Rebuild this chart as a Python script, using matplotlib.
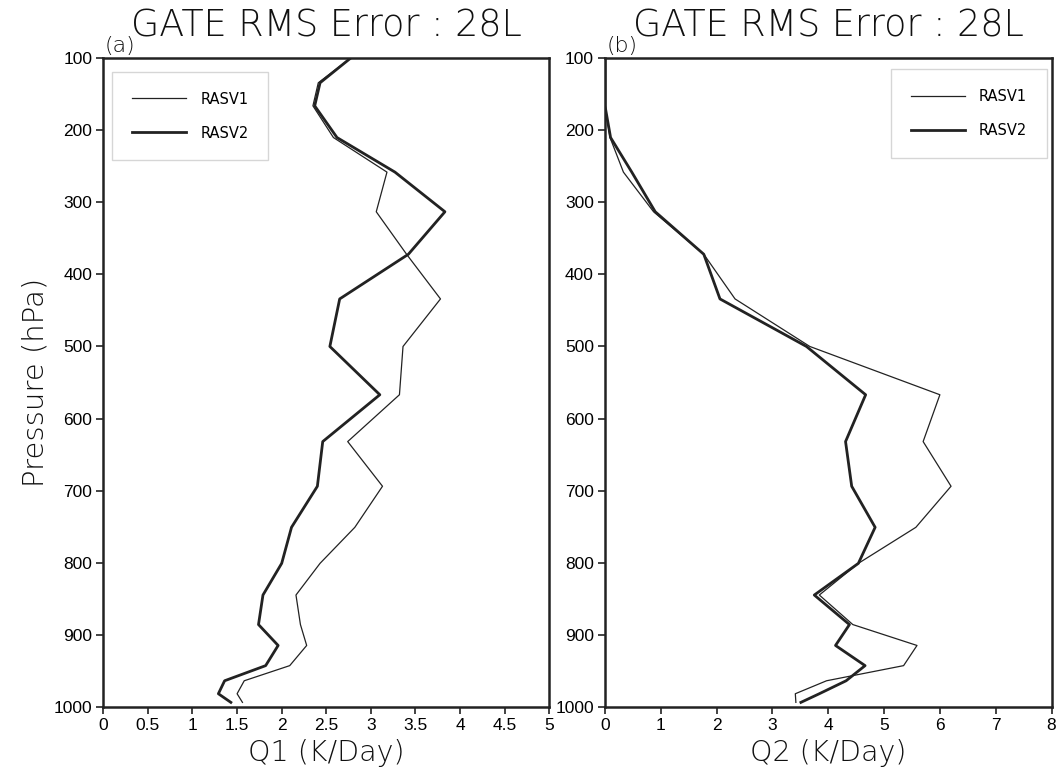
import matplotlib
matplotlib.use("Agg")
import matplotlib.pyplot as plt

# Pressure levels (hPa)
pressure = [100, 134, 166, 210, 258, 313, 372, 434, 500, 567, 632, 694,
            751, 801, 845, 886, 915, 943, 964, 982, 994]

# Panel (a): Q1 RMS error (K/Day)
q1_rasv1 = [2.77, 2.41, 2.35, 2.58, 3.18, 3.06, 3.40, 3.78, 3.36, 3.32, 2.74,
            3.13, 2.82, 2.43, 2.16, 2.21, 2.28, 2.09, 1.58, 1.50, 1.56]
q1_rasv2 = [2.77, 2.43, 2.37, 2.62, 3.27, 3.83, 3.42, 2.65, 2.54, 3.10, 2.46,
            2.40, 2.11, 2.00, 1.79, 1.74, 1.96, 1.82, 1.36, 1.29, 1.43]

# Panel (b): Q2 RMS error (K/Day)
q2_rasv1 = [0.0, 0.0, 0.0, 0.09, 0.33, 0.87, 1.77, 2.33, 3.67, 6.00, 5.70,
            6.20, 5.57, 4.54, 3.84, 4.44, 5.59, 5.35, 3.97, 3.41, 3.42]
q2_rasv2 = [0.0, 0.0, 0.0, 0.10, 0.48, 0.90, 1.77, 2.06, 3.61, 4.67, 4.31,
            4.42, 4.84, 4.54, 3.75, 4.38, 4.13, 4.66, 4.32, 3.84, 3.51]

series_labels = ["RASV1", "RASV2"]
titles = ["GATE RMS Error : 28L", "GATE RMS Error : 28L"]
panel_tags = ["(a)", "(b)"]
xlabels = ["Q1 (K/Day)", "Q2 (K/Day)"]
xticks_a = [0, 0.5, 1, 1.5, 2, 2.5, 3, 3.5, 4, 4.5, 5]
xticklabels_a = ["0", "0.5", "1", "1.5", "2", "2.5", "3", "3.5", "4", "4.5", "5"]
xticks_b = [0, 1, 2, 3, 4, 5, 6, 7, 8]
yticks = [100, 200, 300, 400, 500, 600, 700, 800, 900, 1000]

W, H = 1059, 777
fig = plt.figure(figsize=(W / 100, H / 100), dpi=100)

def frac(x0, y0, x1, y1):
    return [x0 / W, 1 - y1 / H, (x1 - x0) / W, (y1 - y0) / H]

ax_a = fig.add_axes(frac(103.3, 58.3, 549.3, 706.7))
ax_b = fig.add_axes(frac(605, 58.3, 1051.5, 706.7))

line_col = "#222222"
text_col = "#111111"
tick_font = dict(family="Liberation Sans", size=12.5)

panels = [
    (ax_a, q1_rasv1, q1_rasv2, (0, 5), xticks_a, xticklabels_a, "upper left",
     (0.0195, 0.979)),
    (ax_b, q2_rasv1, q2_rasv2, (0, 8), xticks_b, [str(t) for t in xticks_b],
     "upper right", (0.990, 0.983)),
]

for i, (ax, s1, s2, xlim, xt, xtl, loc, anchor) in enumerate(panels):
    ax.plot(s1, pressure, color=line_col, lw=0.9, label=series_labels[0])
    ax.plot(s2, pressure, color=line_col, lw=2.0, label=series_labels[1])
    ax.set_xlim(*xlim)
    ax.set_ylim(1000, 100)
    ax.set_xticks(xt)
    ax.set_xticklabels(xtl, **tick_font)
    ax.set_yticks(yticks)
    ax.set_yticklabels([str(t) for t in yticks], **tick_font)
    ax.tick_params(direction="out", length=5, width=1.2, color=line_col,
                   pad=3)
    for sp in ax.spines.values():
        sp.set_linewidth(1.8)
        sp.set_color(line_col)
    ax.set_title(titles[i], fontsize=26.3, family="DejaVu Sans",
                 fontweight="light", pad=15.5, color=text_col)
    ax.text(0.003, 1.004, panel_tags[i], transform=ax.transAxes, ha="left",
            va="bottom", fontsize=16, family="DejaVu Sans",
            fontweight="light", color=text_col)
    ax.set_xlabel(xlabels[i], fontsize=20.5, family="DejaVu Sans",
                  fontweight="light", color=text_col)
    ax.xaxis.set_label_coords(0.5, -0.072)
    ax.xaxis.label.set_va("center")
    leg = ax.legend(loc=loc, bbox_to_anchor=anchor, frameon=True,
                    fancybox=False, prop=dict(family="Liberation Sans Narrow",
                                              size=10.5),
                    handlelength=3.7, handletextpad=1.0, labelspacing=1.3,
                    borderpad=1.35, borderaxespad=0.0)
    leg.get_frame().set_edgecolor("#cccccc")
    leg.get_frame().set_linewidth(1.0)

ax_a.set_ylabel("Pressure (hPa)", fontsize=21, family="DejaVu Sans",
                fontweight="light", color=text_col)
ax_a.yaxis.set_label_coords(-0.12, 0.5)

fig.savefig("out.png", dpi=100)
